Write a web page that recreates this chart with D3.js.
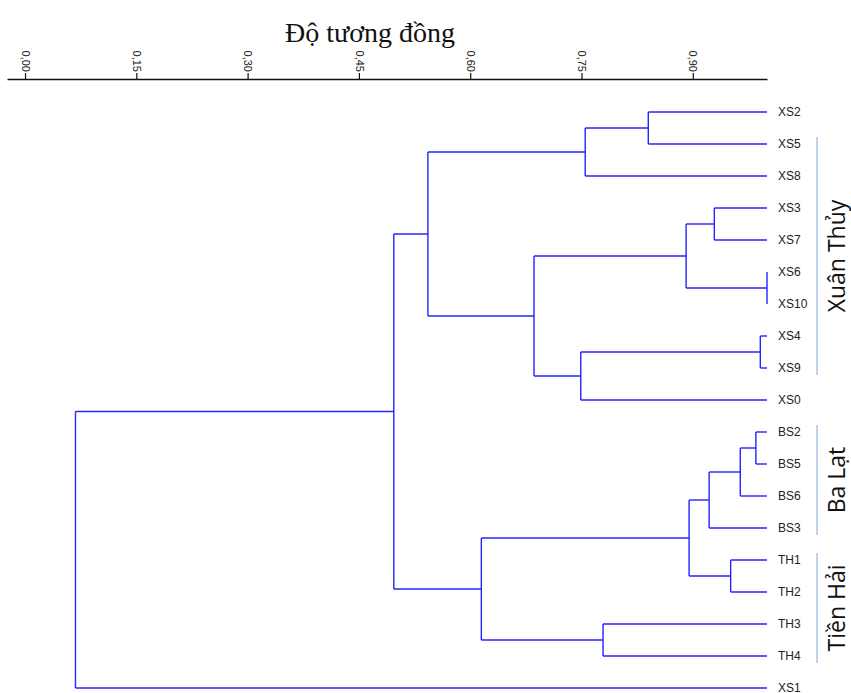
<!DOCTYPE html>
<html>
<head>
<meta charset="utf-8">
<title>Dendrogram</title>
<script src="https://cdn.jsdelivr.net/npm/d3@7"></script>
<style>
  body { margin: 0; background: #fff; }
</style>
</head>
<body>
<div id="chart"></div>
<script>
// leaf order, top to bottom
const leaves = ["XS2","XS5","XS8","XS3","XS7","XS6","XS10","XS4","XS9","XS0",
                "BS2","BS5","BS6","BS3","TH1","TH2","TH3","TH4","XS1"];

// merges: node m(i+1) joins mergeLeft[i] and mergeRight[i] at similarity[i]
const mergeLeft  = ["XS6","XS4","BS2","m3","TH1","XS3","m4","m7","m6","XS2","TH3","m10","m2","m9","m8","m12","m16","m17"];
const mergeRight = ["XS10","XS9","BS5","BS6","TH2","XS7","BS3","m5","m1","XS5","TH4","XS8","XS0","m13","m11","m14","m15","XS1"];
const similarity = [1.00,0.991,0.985,0.964,0.951,0.929,0.922,0.895,0.891,0.840,0.779,0.755,0.749,0.686,0.615,0.543,0.497,0.068];

const tickValues = [0, 0.15, 0.30, 0.45, 0.60, 0.75, 0.90];

// population groups shown on the right
const groupNames = ["Xuân Thủy", "Ba Lạt", "Tiền Hải"];
const groupFirst = ["XS5", "BS2", "TH1"];
const groupLast  = ["XS9", "BS3", "TH4"];

const width = 851, height = 693;
const svg = d3.select("#chart").append("svg")
  .attr("width", width).attr("height", height);

const x = d3.scaleLinear().domain([-0.0243, 1]).range([7, 767]);
const y = d3.scalePoint().domain(leaves).range([112, 688]);

// build node positions
const nodes = {};
leaves.forEach(l => nodes[l] = { x: x(1), y: y(l) });
mergeLeft.forEach((a, i) => {
  const b = mergeRight[i];
  nodes["m" + (i + 1)] = { x: x(similarity[i]), y: (nodes[a].y + nodes[b].y) / 2 };
});

const lineColor = "#2424ff";
const g = svg.append("g")
  .attr("fill", "none")
  .attr("stroke", lineColor)
  .attr("stroke-width", 1.4);

// elbows
mergeLeft.forEach((a, i) => {
  const b = mergeRight[i];
  const n = nodes["m" + (i + 1)];
  [a, b].forEach(c => {
    g.append("path")
      .attr("d", `M${n.x},${nodes[c].y}H${nodes[c].x}`);
  });
  g.append("path").attr("d", `M${n.x},${nodes[a].y}V${nodes[b].y}`);
});

// leaf labels
svg.append("g").selectAll("text")
  .data(leaves)
  .join("text")
  .attr("x", 778)
  .attr("y", d => y(d))
  .attr("dy", "0.35em")
  .attr("font-family", "Arial, 'Liberation Sans', sans-serif")
  .attr("font-size", 12)
  .attr("fill", "#222")
  .text(d => d);

// axis on top
const fmt = d3.formatLocale({ decimal: ",", thousands: ".", grouping: [3], currency: ["", ""] }).format(".2f");
const axis = svg.append("g")
  .attr("transform", "translate(0,79)")
  .call(d3.axisTop(x).tickValues(tickValues).tickSize(6).tickSizeOuter(0).tickFormat(fmt));
axis.select(".domain").attr("stroke", "#111").attr("stroke-width", 1.6);
axis.selectAll(".tick line").attr("stroke", "#111").attr("stroke-width", 1.2);
axis.selectAll(".tick text")
  .attr("x", 0).attr("y", 0)
  .attr("dy", "0.35em")
  .attr("text-anchor", "end")
  .attr("transform", "translate(0,-7) rotate(90)")
  .attr("font-family", "Arial, 'Liberation Sans', sans-serif")
  .attr("font-size", 11)
  .attr("fill", "#222");

// title
svg.append("text")
  .attr("x", 370).attr("y", 42)
  .attr("text-anchor", "middle")
  .attr("font-family", "'Liberation Serif', 'Times New Roman', serif")
  .attr("font-size", 28)
  .attr("fill", "#111")
  .text("Độ tương đồng");

// group brackets
groupNames.forEach((name, i) => {
  const y0 = y(groupFirst[i]) - 7, y1 = y(groupLast[i]) + 7;
  svg.append("line")
    .attr("x1", 817).attr("x2", 817)
    .attr("y1", y0).attr("y2", y1)
    .attr("stroke", "#a9c6e6").attr("stroke-width", 1.5);
  svg.append("text")
    .attr("transform", `translate(845,${(y0 + y1) / 2}) rotate(-90)`)
    .attr("text-anchor", "middle")
    .attr("font-family", "'Open Sans', sans-serif")
    .attr("font-size", 23)
    .attr("fill", "#111")
    .text(name);
});
</script>
</body>
</html>
